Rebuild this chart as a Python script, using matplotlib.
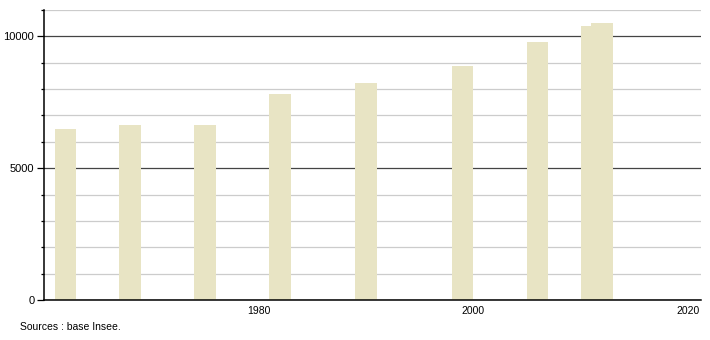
import matplotlib
matplotlib.use('Agg')
import matplotlib.pyplot as plt
from matplotlib.ticker import MultipleLocator

# Données
years = [1962, 1968, 1975, 1982, 1990, 1999, 2006, 2011, 2012]
population = [6490, 6640, 6630, 7825, 8245, 8870, 9770, 10410, 10500]
xticks = [1980, 2000, 2020]

plt.rcParams['font.family'] = ['Liberation Sans', 'DejaVu Sans']

fig = plt.figure(figsize=(7.1, 3.4), dpi=100)
ax = fig.add_axes([0.062, 0.1176, 0.925, 0.853])

ax.bar(years, population, width=2, color='#e8e4c4', zorder=2)

ax.set_xlim(1960, 2021.2)
ax.set_ylim(0, 11000)

# grille : gris clair tous les 1000, foncé tous les 5000
ax.yaxis.set_major_locator(MultipleLocator(5000))
ax.yaxis.set_minor_locator(MultipleLocator(1000))
ax.grid(axis='y', which='minor', color='#cccccc', linewidth=0.9, zorder=0)
ax.grid(axis='y', which='major', color='#444444', linewidth=0.9, zorder=1)
ax.set_axisbelow(True)

ax.set_xticks(xticks)
ax.tick_params(axis='x', length=0, labelsize=7.5, pad=4)
ax.tick_params(axis='y', which='major', length=5, width=0.9, labelsize=8, pad=2)
ax.tick_params(axis='y', which='minor', length=2.5, width=0.9)

for side in ['top', 'right']:
    ax.spines[side].set_visible(False)
for side in ['left', 'bottom']:
    ax.spines[side].set_linewidth(1.1)
    ax.spines[side].set_color('black')

fig.text(20 / 710, 1 - 327 / 340, 'Sources : base Insee.', fontsize=7.5, va='center')

fig.savefig('out.png', dpi=100)
